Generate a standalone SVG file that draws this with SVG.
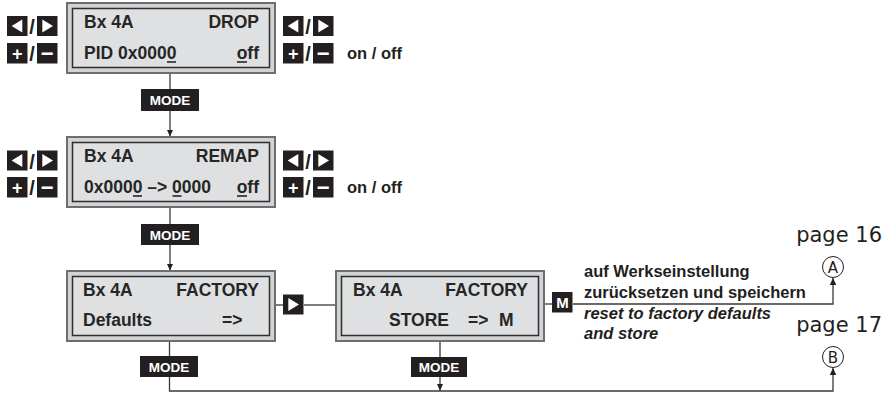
<svg xmlns="http://www.w3.org/2000/svg" width="896" height="393" viewBox="0 0 896 393">
<style>
.outer{fill:#d2d3d5;stroke:#6e6e70;stroke-width:2}
.inner{fill:#dfe0e2;stroke:#2e2e2e;stroke-width:1.5}
.lcd{font-family:"Liberation Sans",Arial,sans-serif;font-weight:bold;font-size:17.5px;fill:#262626}
.ul{stroke:#262626;stroke-width:1.6}
.key{fill:#231f20}
.kw{fill:#ffffff;font-family:"Liberation Sans",Arial,sans-serif;font-weight:bold}
.slash{font-family:"Liberation Sans",Arial,sans-serif;font-weight:bold;font-size:20px;fill:#231f20;text-anchor:middle}
.lbl{font-family:"Liberation Sans",Arial,sans-serif;font-weight:bold;font-size:16.5px;fill:#231f20}
.desc{font-family:"Liberation Sans",Arial,sans-serif;font-weight:bold;font-size:16.5px;fill:#231f20}
.page{font-family:"DejaVu Sans","Liberation Sans",sans-serif;font-size:21px;fill:#231f20;text-anchor:end}
.circ{fill:#ffffff;stroke:#231f20;stroke-width:1}
.ctext{font-family:"DejaVu Sans","Liberation Sans",sans-serif;font-size:15px;fill:#231f20;text-anchor:middle}
.con{fill:none;stroke:#3a3a3a;stroke-width:1.3}
.mode{font-family:"Liberation Sans",Arial,sans-serif;font-weight:bold;font-size:13.5px;fill:#ffffff;text-anchor:middle}
</style>
<defs>
<marker id="arr" markerUnits="userSpaceOnUse" markerWidth="8" markerHeight="8" refX="7" refY="3.25" orient="auto">
<path d="M0,0 L7,3.25 L0,6.5 z" fill="#231f20"/>
</marker>
<g id="kL"><rect class="key" width="20.5" height="20"/><polygon points="4.6,10 15.3,3.4 15.3,16.6" fill="#fff"/></g>
<g id="kR"><rect class="key" width="20.5" height="20"/><polygon points="16,10 5.3,3.4 5.3,16.6" fill="#fff"/></g>
<rect id="kB" class="key" width="20.5" height="20.5"/>
</defs>

<g id="connectors">
<line class="con" x1="170" y1="73" x2="170" y2="89"/>
<line class="con" x1="170" y1="111" x2="170" y2="136.5" marker-end="url(#arr)"/>
<line class="con" x1="170" y1="207" x2="170" y2="224"/>
<line class="con" x1="170" y1="245" x2="170" y2="270.5" marker-end="url(#arr)"/>
<line class="con" x1="275" y1="305" x2="283" y2="305"/>
<line class="con" x1="304" y1="305" x2="336" y2="305"/>
<line class="con" x1="169.5" y1="341" x2="169.5" y2="356"/>
<polyline class="con" points="169.5,377 169.5,391 833,391 833,368" marker-end="url(#arr)"/>
<line class="con" x1="440" y1="341" x2="440" y2="357"/>
<line class="con" x1="440" y1="377" x2="440" y2="390.5" marker-end="url(#arr)"/>
<line class="con" x1="544" y1="304" x2="552" y2="304"/>
<polyline class="con" points="573,304 833,304 833,278" marker-end="url(#arr)"/>
</g>

<g id="drop">
<rect class="outer" x="67" y="3" width="208" height="70"/>
<rect class="inner" x="72.5" y="8.5" width="197" height="59"/>
<text class="lcd" x="84" y="27.5">Bx 4A</text>
<text class="lcd" x="259" y="27.5" text-anchor="end">DROP</text>
<text class="lcd" x="84" y="58.5">PID 0x0000</text>
<text class="lcd" x="259" y="58.5" text-anchor="end">off</text>
<line class="ul" x1="167" y1="62" x2="176" y2="62"/>
<line class="ul" x1="237" y1="62" x2="247" y2="62"/>
</g>

<g id="drop-keys">
<use href="#kL" x="7" y="16"/><text class="slash" x="32" y="34">/</text><use href="#kR" x="37" y="16"/>
<use href="#kB" x="7" y="43"/><text class="kw" x="17.2" y="59.5" font-size="18" text-anchor="middle">+</text>
<text class="slash" x="32" y="61">/</text>
<use href="#kB" x="37" y="43"/><text class="kw" x="47.2" y="61" font-size="22" text-anchor="middle">−</text>
<use href="#kL" x="283" y="16"/><text class="slash" x="308" y="34">/</text><use href="#kR" x="313" y="16"/>
<use href="#kB" x="283" y="43"/><text class="kw" x="293.2" y="59.5" font-size="18" text-anchor="middle">+</text>
<text class="slash" x="308" y="61">/</text>
<use href="#kB" x="313" y="43"/><text class="kw" x="323.2" y="61" font-size="22" text-anchor="middle">−</text>
<text class="lbl" x="347" y="59">on / off</text>
</g>

<g id="mode1"><rect class="key" x="141" y="89" width="58" height="22"/><text class="mode" x="170" y="105">MODE</text></g>

<g id="remap">
<rect class="outer" x="67" y="137" width="208" height="70"/>
<rect class="inner" x="72.5" y="142.5" width="197" height="59"/>
<text class="lcd" x="84" y="161.5">Bx 4A</text>
<text class="lcd" x="259" y="161.5" text-anchor="end">REMAP</text>
<text class="lcd" x="84" y="192.5">0x0000 –&gt; 0000</text>
<text class="lcd" x="259" y="192.5" text-anchor="end">off</text>
<line class="ul" x1="133" y1="196" x2="142" y2="196"/>
<line class="ul" x1="172.5" y1="196" x2="181.5" y2="196"/>
<line class="ul" x1="237" y1="196" x2="247" y2="196"/>
</g>

<g id="remap-keys">
<use href="#kL" x="7" y="150.5"/><text class="slash" x="32" y="168.5">/</text><use href="#kR" x="37" y="150.5"/>
<use href="#kB" x="7" y="177"/><text class="kw" x="17.2" y="193.5" font-size="18" text-anchor="middle">+</text>
<text class="slash" x="32" y="195">/</text>
<use href="#kB" x="37" y="177"/><text class="kw" x="47.2" y="195" font-size="22" text-anchor="middle">−</text>
<use href="#kL" x="283" y="150.5"/><text class="slash" x="308" y="168.5">/</text><use href="#kR" x="313" y="150.5"/>
<use href="#kB" x="283" y="177"/><text class="kw" x="293.2" y="193.5" font-size="18" text-anchor="middle">+</text>
<text class="slash" x="308" y="195">/</text>
<use href="#kB" x="313" y="177"/><text class="kw" x="323.2" y="195" font-size="22" text-anchor="middle">−</text>
<text class="lbl" x="347" y="193">on / off</text>
</g>

<g id="mode2"><rect class="key" x="141" y="224" width="58" height="21"/><text class="mode" x="170" y="239.5">MODE</text></g>

<g id="factory">
<rect class="outer" x="67" y="271" width="208" height="70"/>
<rect class="inner" x="72.5" y="276.5" width="197" height="59"/>
<text class="lcd" x="83" y="295.5">Bx 4A</text>
<text class="lcd" x="259" y="295.5" text-anchor="end">FACTORY</text>
<text class="lcd" x="83" y="325.5">Defaults</text>
<text class="lcd" x="222" y="325.5">=&gt;</text>
</g>

<g id="key-right"><use href="#kR" x="283" y="294.5"/></g>

<g id="factory-store">
<rect class="outer" x="336" y="271" width="208" height="70"/>
<rect class="inner" x="341.5" y="276.5" width="197" height="59"/>
<text class="lcd" x="353" y="295.5">Bx 4A</text>
<text class="lcd" x="528" y="295.5" text-anchor="end">FACTORY</text>
<text class="lcd" x="389" y="325.5">STORE</text>
<text class="lcd" x="468" y="325.5">=&gt;</text>
<text class="lcd" x="499" y="325.5">M</text>
</g>

<g id="mode3"><rect class="key" x="140" y="356" width="58" height="21"/><text class="mode" x="169" y="371.5">MODE</text></g>
<g id="mode4"><rect class="key" x="411" y="357" width="56" height="20"/><text class="mode" x="439" y="372">MODE</text></g>

<g id="key-m"><use href="#kB" x="552" y="292"/><text class="kw" x="562.5" y="308" font-size="15" text-anchor="middle">M</text></g>

<g id="description">
<text class="desc" x="584" y="277">auf Werkseinstellung</text>
<text class="desc" x="584" y="297.5">zurücksetzen und speichern</text>
<text class="desc" x="584" y="318.5" font-style="italic">reset to factory defaults</text>
<text class="desc" x="584" y="339" font-style="italic">and store</text>
</g>

<g id="ref-a">
<text class="page" x="882" y="242">page 16</text>
<circle class="circ" cx="833" cy="267" r="10.5"/>
<text class="ctext" x="833" y="272.5">A</text>
</g>
<g id="ref-b">
<text class="page" x="882" y="332">page 17</text>
<circle class="circ" cx="833" cy="357" r="10.5"/>
<text class="ctext" x="833" y="362.5">B</text>
</g>
</svg>
